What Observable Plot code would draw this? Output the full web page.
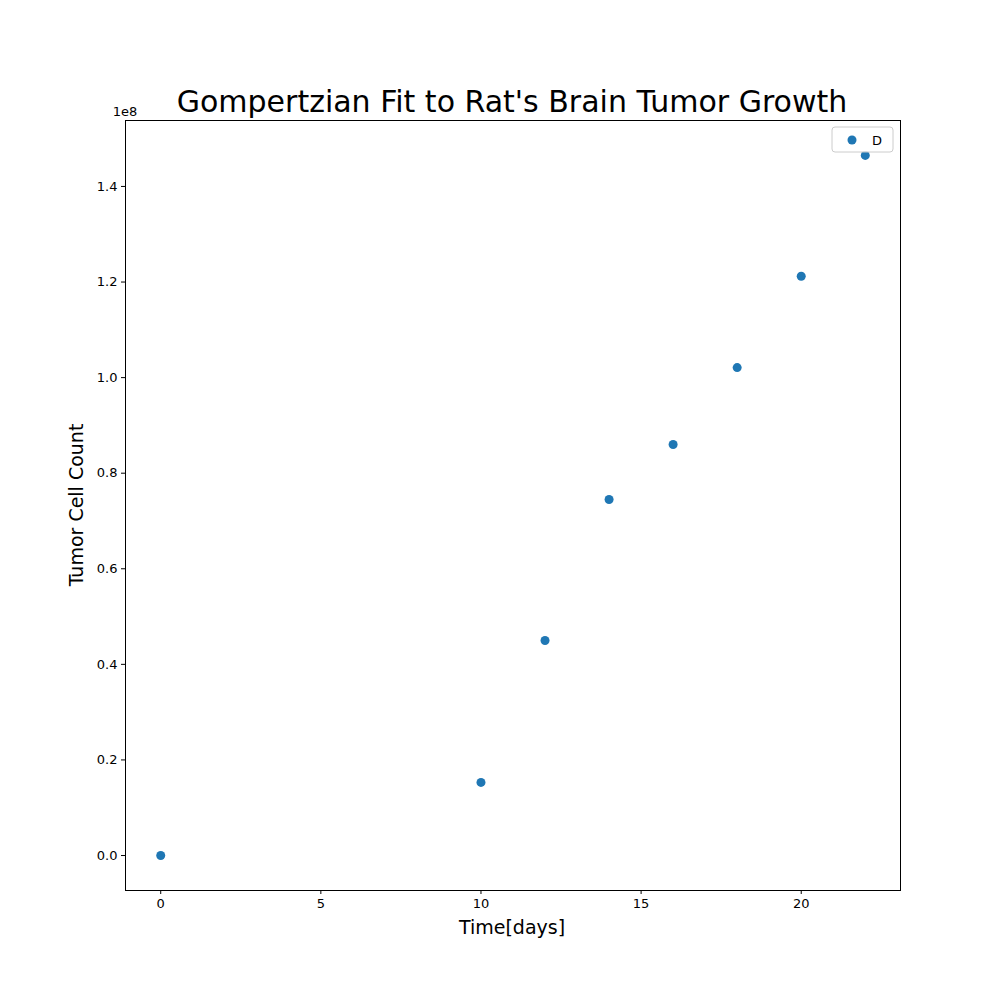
<!DOCTYPE html>
<html><head>
<script src="https://cdn.jsdelivr.net/npm/d3@7"></script>
<script src="https://cdn.jsdelivr.net/npm/@observablehq/plot@0.6"></script>
<style>body{margin:0;background:#fff}</style>
</head><body>
<div id="c"></div>
<script>
const days = [0, 10, 12, 14, 16, 18, 20, 22];
const counts = [0, 0.153e8, 0.450e8, 0.745e8, 0.860e8, 1.021e8, 1.212e8, 1.465e8];
const xTicks = [0, 5, 10, 15, 20];
const yTicks = [0, 0.2e8, 0.4e8, 0.6e8, 0.8e8, 1.0e8, 1.2e8, 1.4e8];
const data = days.map((d, i) => ({d, c: counts[i]}));
const font = "DejaVu Sans, sans-serif";
const plot = Plot.plot({
  width: 1000, height: 1000,
  marginLeft: 125, marginRight: 100, marginTop: 120, marginBottom: 110,
  style: {fontFamily: font, fontSize: "13px", color: "#000", background: "#fff"},
  x: {domain: [-1.1, 23.1], ticks: xTicks, tickSize: 4, tickPadding: 4, label: null, tickFormat: d => d},
  y: {domain: [-0.0732e8, 1.538e8], ticks: yTicks, tickSize: 4, tickPadding: 4, label: null, tickFormat: d => (d/1e8).toFixed(1)},
  marks: [
    Plot.frame({stroke: "#000"}),
    Plot.dot(data, {x: "d", y: "c", r: 4.5, fill: "#1f77b4", stroke: null})
  ]
});
document.getElementById("c").appendChild(plot);
const svg = d3.select(plot);
svg.append("text").attr("x", 512).attr("y", 112).attr("text-anchor", "middle")
  .attr("font-size", 30).attr("font-family", font).text("Gompertzian Fit to Rat's Brain Tumor Growth");
svg.append("text").attr("x", 512).attr("y", 934).attr("text-anchor", "middle")
  .attr("font-size", 19).attr("font-family", font).text("Time[days]");
svg.append("text").attr("transform", "translate(83,505) rotate(-90)").attr("text-anchor", "middle")
  .attr("font-size", 19).attr("font-family", font).text("Tumor Cell Count");
svg.append("text").attr("x", 125).attr("y", 116).attr("font-size", 13).attr("font-family", font).text("1e8");
const lg = svg.append("g");
lg.append("rect").attr("x", 832).attr("y", 127).attr("width", 61).attr("height", 25).attr("rx", 3)
  .attr("fill", "#fff").attr("fill-opacity", 0.8).attr("stroke", "#ccc");
lg.append("circle").attr("cx", 852).attr("cy", 140).attr("r", 4.5).attr("fill", "#1f77b4");
lg.append("text").attr("x", 877).attr("y", 145).attr("font-size", 13).attr("font-family", font).text("D");
</script>
</body></html>
